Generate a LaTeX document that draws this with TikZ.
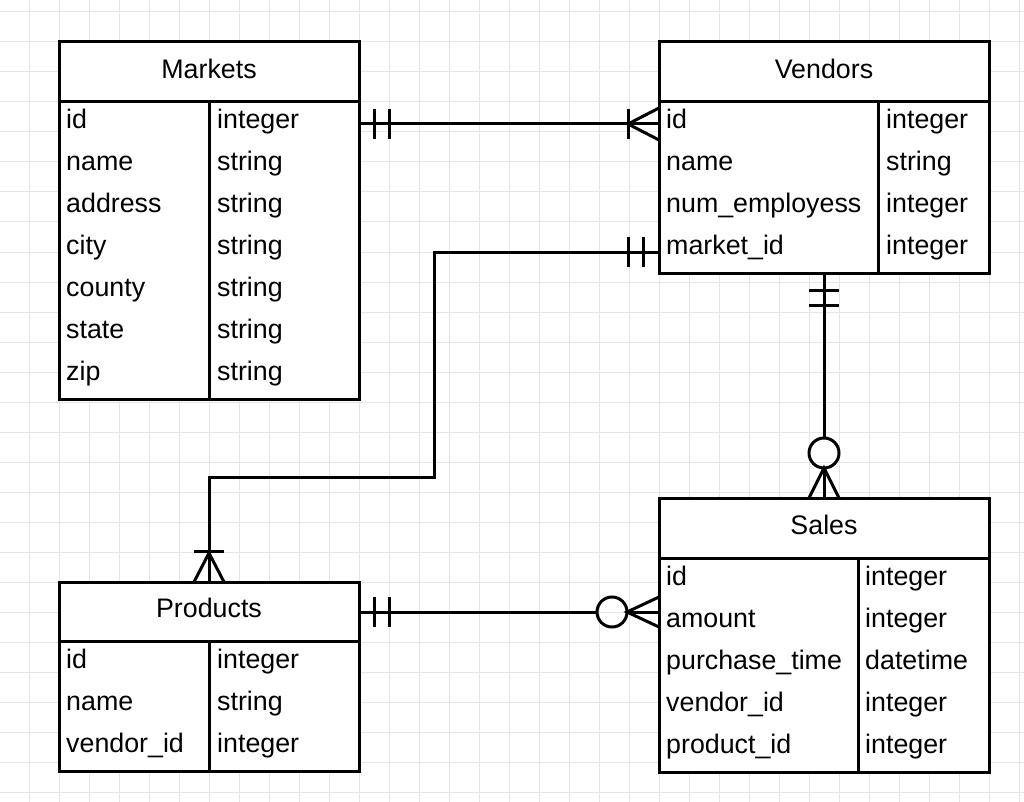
\documentclass[tikz,border=0pt]{standalone}
\usepackage{fontspec}
\setmainfont{Liberation Sans}
\begin{document}
\begin{tikzpicture}[x=1pt,y=-1pt,
  tbl/.style={draw=black, fill=white, line width=3pt, rectangle, inner sep=0pt, outer sep=0pt, anchor=north west},
  sep/.style={draw=black, line width=3pt},
  txt/.style={anchor=base west, inner sep=0pt, font=\fontsize{26.8}{30}\selectfont},
  hdr/.style={anchor=base, inner sep=0pt, font=\fontsize{26.8}{30}\selectfont},
  conn/.style={draw=black, line width=3pt},
  ermark/.style={draw=black, line width=3pt},
  gridline/.style={draw=black!10, line width=1pt}]
\useasboundingbox (0,0) rectangle (1024,802);
\fill[white] (0,0) rectangle (1024,802);
% grid
\foreach \k in {0,...,33} { \draw[gridline] (29+30*\k,0) -- (29+30*\k,802); }
\foreach \k in {0,...,26} { \draw[gridline] (0,12+30*\k) -- (1024,12+30*\k); }

% tables
\node[tbl, minimum width=300pt, minimum height=357pt] (markets) at (59,42) {};
\draw[sep] (59,102) -- (359,102);
\draw[sep] (209,102) -- (209,399);
\node[hdr] (markets-h) at (209,78.5) {Markets};
\foreach \n/\t [count=\i from 0] in {id/integer,name/string,address/string,city/string,county/string,state/string,zip/string} {
  \node[txt] (m-\i-a) at (66,128.5+42*\i) {\n};
  \node[txt] (m-\i-b) at (217,128.5+42*\i) {\t};
}

\node[tbl, minimum width=330pt, minimum height=231pt] (vendors) at (659,42) {};
\draw[sep] (659,102) -- (989,102);
\draw[sep] (878,102) -- (878,273);
\node[hdr] (vendors-h) at (824,78.5) {Vendors};
\foreach \n/\t [count=\i from 0] in {id/integer,name/string,num\_employess/integer,market\_id/integer} {
  \node[txt] (v-\i-a) at (666,128.5+42*\i) {\n};
  \node[txt] (v-\i-b) at (886,128.5+42*\i) {\t};
}

\node[tbl, minimum width=300pt, minimum height=189pt] (products) at (59,582) {};
\draw[sep] (59,641) -- (359,641);
\draw[sep] (209,641) -- (209,771);
\node[hdr] (products-h) at (209,617.5) {Products};
\foreach \n/\t [count=\i from 0] in {id/integer,name/string,vendor\_id/integer} {
  \node[txt] (p-\i-a) at (66,668.5+42*\i) {\n};
  \node[txt] (p-\i-b) at (217,668.5+42*\i) {\t};
}

\node[tbl, minimum width=330pt, minimum height=274pt] (sales) at (659,498) {};
\draw[sep] (659,558) -- (989,558);
\draw[sep] (858,558) -- (858,772);
\node[hdr] (sales-h) at (824,534.5) {Sales};
\foreach \n/\t [count=\i from 0] in {id/integer,amount/integer,purchase\_time/datetime,vendor\_id/integer,product\_id/integer} {
  \node[txt] (s-\i-a) at (666,585.5+42*\i) {\n};
  \node[txt] (s-\i-b) at (865,585.5+42*\i) {\t};
}

% connection points
\coordinate (c1a) at (markets.east |- 0,124);
\coordinate (c1b) at (vendors.west |- 0,124);
\coordinate (c2a) at (vendors.west |- 0,252);
\coordinate (c2b) at (products.north);
\coordinate (c3a) at (vendors.south);
\coordinate (c3b) at (sales.north);
\coordinate (c4a) at (products.east |- 0,612);
\coordinate (c4b) at (sales.west |- 0,612);

% connector 1: Markets id -> Vendors id
\draw[conn] (c1a) -- (c1b);
\draw[ermark] (374,109) -- (374,139) (389,109) -- (389,139);
\draw[ermark] (628,109) -- (628,139);
\draw[ermark] (659,108) -- (628,124) -- (659,140);

% connector 2: Vendors market_id -> Products
\draw[conn] (c2a) -- (434,252) -- (434,477) -- (209,477) -- (c2b);
\draw[ermark] (628,237) -- (628,267) (643,237) -- (643,267);
\draw[ermark] (194,551) -- (224,551);
\draw[ermark] (194,582) -- (209,553) -- (224,582);

% connector 3: Vendors -> Sales
\draw[conn] (c3a) -- (824,438);
\draw[conn] (824,468) -- (c3b);
\draw[ermark] (809,290) -- (839,290) (809,305) -- (839,305);
\draw[ermark] (824,453) circle[radius=15];
\draw[ermark] (809,498) -- (824,468) -- (839,498);

% connector 4: Products -> Sales
\draw[conn] (c4a) -- (597,612);
\draw[conn] (627,612) -- (c4b);
\draw[ermark] (374,597) -- (374,627) (389,597) -- (389,627);
\draw[ermark] (612,612) circle[radius=15];
\draw[ermark] (659,597) -- (627,612) -- (659,627);
\end{tikzpicture}
\end{document}
